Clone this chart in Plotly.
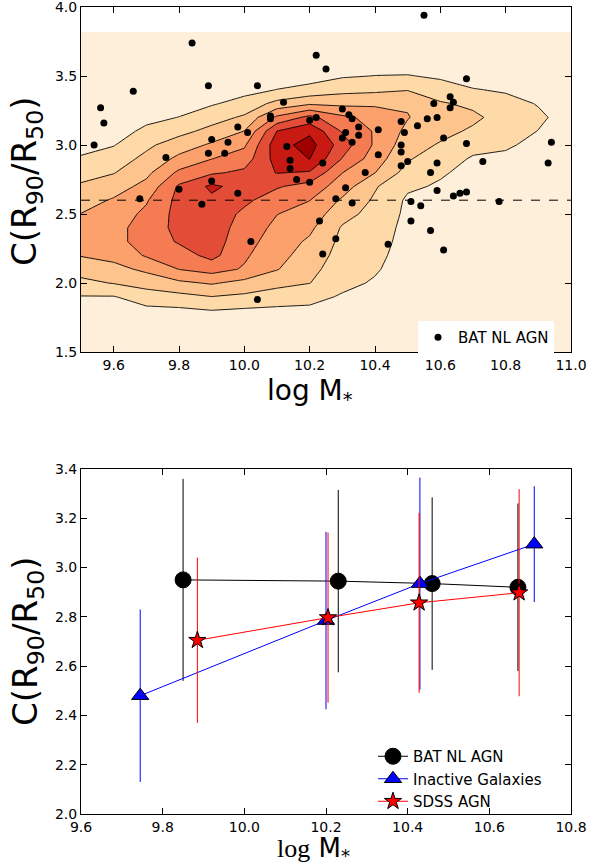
import numpy as np
import plotly.graph_objects as go

# ---------------- top panel: density grid ----------------
x_grid = [9.5, 9.6, 9.7, 9.8, 9.9, 10.0, 10.1, 10.2, 10.3, 10.4, 10.5, 10.6, 10.7, 10.8, 10.9, 11.0]
y_grid = [1.5, 1.6, 1.7, 1.8, 1.9, 2.0, 2.1, 2.2, 2.3, 2.4, 2.5, 2.6, 2.7, 2.8, 2.9,
          3.0, 3.1, 3.2, 3.3, 3.4, 3.5, 3.6, 3.7, 3.82]
# one list per x column, values along y_grid
z_cols = [
    [0.0, 0.1, 0.3, 0.6, 0.95, 1.75, 2.4, 3.05, 3.3, 3.3, 3.02, 2.6, 2.15, 1.6, 1.1, 0.7, 0.4, 0.25, 0.15, 0.1, 0.05, 0.05, 0.05, 0.05],
    [0.0, 0.1, 0.3, 0.6, 0.95, 2.05, 2.7, 3.3, 3.7, 3.7, 3.5, 3.1, 2.55, 1.95, 1.5, 0.95, 0.6, 0.35, 0.2, 0.12, 0.08, 0.05, 0.05, 0.05],
    [0.05, 0.15, 0.4, 0.75, 1.5, 2.4, 3.2, 4.1, 4.4, 4.4, 4.2, 3.9, 3.3, 2.75, 2.25, 1.8, 1.2, 0.75, 0.45, 0.25, 0.15, 0.1, 0.05, 0.05],
    [0.05, 0.15, 0.4, 0.8, 1.7, 2.8, 4.02, 4.55, 5.1, 5.3, 5.35, 5.3, 5.15, 4.2, 3.25, 2.5, 1.7, 1.02, 0.6, 0.35, 0.2, 0.1, 0.05, 0.05],
    [0.05, 0.15, 0.4, 0.98, 1.98, 3.1, 4.4, 5.3, 5.45, 5.5, 5.6, 5.8, 6.2, 4.85, 3.98, 3.15, 2.3, 1.6, 0.9, 0.5, 0.3, 0.15, 0.1, 0.05],
    [0.05, 0.15, 0.45, 0.85, 1.8, 2.7, 3.9, 4.15, 4.4, 4.6, 4.8, 5.2, 5.6, 5.2, 4.5, 3.85, 3.02, 2.15, 1.35, 0.7, 0.4, 0.2, 0.1, 0.05],
    [0.05, 0.2, 0.5, 0.8, 1.5, 2.3, 3.05, 3.3, 3.5, 3.75, 4.02, 4.5, 5.1, 6.05, 6.4, 6.6, 6.02, 4.2, 2.3, 1.02, 0.5, 0.25, 0.1, 0.05],
    [0.05, 0.2, 0.5, 0.8, 1.3, 2.02, 2.3, 2.6, 2.85, 3.2, 3.6, 4.02, 4.6, 5.9, 7.02, 7.4, 6.8, 5.3, 2.85, 1.3, 0.6, 0.3, 0.1, 0.05],
    [0.05, 0.2, 0.45, 0.7, 0.9, 1.25, 1.45, 1.6, 1.75, 1.9, 2.35, 2.85, 3.5, 4.02, 4.95, 5.5, 4.9, 4.2, 2.75, 1.7, 0.9, 0.45, 0.2, 0.1],
    [0.05, 0.15, 0.35, 0.55, 0.75, 0.9, 1.1, 1.25, 1.4, 1.5, 1.65, 1.85, 2.1, 3.02, 3.5, 3.85, 3.9, 3.7, 2.8, 1.8, 1.02, 0.5, 0.25, 0.1],
    [0.05, 0.1, 0.2, 0.3, 0.4, 0.5, 0.55, 0.6, 0.65, 0.72, 0.8, 0.85, 1.15, 1.6, 2.1, 2.45, 2.75, 3.05, 2.9, 1.95, 1.05, 0.5, 0.25, 0.1],
    [0.05, 0.05, 0.1, 0.15, 0.2, 0.25, 0.3, 0.35, 0.4, 0.5, 0.6, 0.75, 0.9, 1.1, 1.45, 1.9, 2.3, 2.4, 2.1, 1.45, 0.85, 0.45, 0.2, 0.1],
    [0.05, 0.05, 0.05, 0.1, 0.1, 0.15, 0.2, 0.25, 0.3, 0.35, 0.4, 0.5, 0.6, 0.75, 0.9, 1.3, 1.85, 2.2, 1.8, 1.05, 0.6, 0.35, 0.15, 0.1],
    [0.05, 0.05, 0.05, 0.05, 0.1, 0.1, 0.15, 0.2, 0.25, 0.3, 0.35, 0.45, 0.55, 0.65, 0.85, 1.1, 1.4, 1.6, 1.3, 0.9, 0.5, 0.3, 0.15, 0.1],
    [0.05, 0.05, 0.05, 0.05, 0.05, 0.1, 0.1, 0.15, 0.2, 0.25, 0.3, 0.35, 0.4, 0.5, 0.6, 0.8, 0.98, 1.15, 0.95, 0.6, 0.4, 0.2, 0.1, 0.05],
    [0.05, 0.05, 0.05, 0.05, 0.05, 0.05, 0.1, 0.1, 0.15, 0.2, 0.2, 0.25, 0.3, 0.35, 0.4, 0.5, 0.6, 0.65, 0.55, 0.4, 0.25, 0.15, 0.1, 0.05],
]
band_colors = ["#fdefd9", "#fddaa8", "#fdc48d", "#fca06c", "#f57b52", "#e34c36", "#c81a12", "#9e0000"]

# BAT NL AGN individual galaxies
bat_logm = [9.54, 9.56, 9.57, 9.66, 9.84, 9.89, 9.76, 9.90, 9.89, 9.90, 9.80, 9.68, 9.98, 10.01,
            9.95, 9.94, 9.98, 10.04, 10.08, 10.08, 10.12, 10.13, 10.14, 10.14, 10.16, 10.20, 10.24,
            10.20, 10.22, 10.22, 10.25, 10.28, 10.55, 10.68, 10.63, 10.64, 10.58, 10.63, 10.30, 10.32,
            10.33, 10.59, 10.56, 10.48, 10.53, 10.35, 10.41, 10.31, 10.49, 10.35, 10.30, 10.33, 10.61,
            10.48, 10.68, 10.94, 10.48, 10.41, 10.48, 10.50, 10.59, 10.73, 10.93, 10.37, 10.57, 10.31,
            10.59, 10.66, 10.68, 10.64, 10.33, 10.23, 10.28, 10.24, 10.44, 10.51, 10.54, 10.78, 10.51,
            10.57, 10.61, 9.87, 10.02, 10.04]
bat_conc = [3.00, 3.27, 3.16, 3.39, 3.74, 3.43, 2.91, 3.04, 2.94, 2.74, 2.68, 2.61, 3.13, 3.09,
            3.02, 2.94, 2.65, 3.43, 3.21, 3.19, 3.31, 2.99, 2.89, 2.83, 2.75, 2.73, 2.87,
            3.18, 3.20, 3.65, 3.55, 2.61, 3.94, 3.48, 3.35, 3.31, 3.30, 3.27, 3.26, 3.22,
            3.19, 3.20, 3.19, 3.17, 3.14, 3.13, 3.11, 3.09, 3.09, 3.07, 3.05, 3.02, 3.05,
            3.00, 3.01, 3.02, 2.95, 2.93, 2.85, 2.88, 2.87, 2.88, 2.87, 2.80, 2.80, 2.69,
            2.67, 2.65, 2.66, 2.63, 2.58, 2.45, 2.32, 2.21, 2.28, 2.59, 2.56, 2.59, 2.45,
            2.38, 2.24, 2.57, 2.30, 1.88]
conc_threshold = 2.6

# ---------------- bottom panel: binned medians ----------------
bat_bin_m = [9.85, 10.23, 10.46, 10.67]
bat_bin_c = [2.95, 2.945, 2.935, 2.92]
bat_bin_e = [0.41, 0.37, 0.35, 0.34]

ina_bin_m = [9.745, 10.20, 10.43, 10.71]
ina_bin_c = [2.48, 2.785, 2.935, 3.095]
ina_bin_e = [0.35, 0.36, 0.43, 0.235]

sdss_bin_m = [9.885, 10.205, 10.428, 10.673]
sdss_bin_c = [2.705, 2.797, 2.857, 2.898]
sdss_bin_e = [0.335, 0.345, 0.365, 0.42]

top_xticks = [9.6, 9.8, 10.0, 10.2, 10.4, 10.6, 10.8, 11.0]
top_yticks = [1.5, 2.0, 2.5, 3.0, 3.5, 4.0]
bot_xticks = [9.6, 9.8, 10.0, 10.2, 10.4, 10.6, 10.8]
bot_yticks = [2.0, 2.2, 2.4, 2.6, 2.8, 3.0, 3.2, 3.4]

W, H = 603, 865
FONT = "DejaVu Sans"

fig = go.Figure()

z = np.array(z_cols).T
nb = len(band_colors)
fig.add_trace(go.Contour(
    x=x_grid, y=y_grid, z=z, xaxis="x", yaxis="y",
    autocontour=False,
    contours=dict(start=1, end=nb - 1, size=1, coloring="fill"),
    colorscale=[[i / (nb - 1), c] for i, c in enumerate(band_colors)],
    line=dict(color="black", width=0.9, smoothing=0),
    showscale=False, showlegend=False, hoverinfo="skip",
))

fig.add_trace(go.Scatter(
    x=bat_logm, y=bat_conc, mode="markers", xaxis="x", yaxis="y",
    marker=dict(color="black", size=7, line=dict(width=0)),
    name="BAT NL AGN", legend="legend",
))

fig.add_shape(type="line", xref="x domain", yref="y", x0=0, x1=1,
              y0=conc_threshold, y1=conc_threshold,
              line=dict(color="black", width=1, dash="dash"))

fig.add_trace(go.Scatter(
    x=bat_bin_m, y=bat_bin_c, mode="lines+markers", xaxis="x2", yaxis="y2",
    error_y=dict(type="data", array=bat_bin_e, color="black", thickness=1, width=0),
    line=dict(color="black", width=1),
    marker=dict(symbol="circle", size=16, color="black", line=dict(color="black", width=1)),
    name="BAT NL AGN", legend="legend2",
))
fig.add_trace(go.Scatter(
    x=ina_bin_m, y=ina_bin_c, mode="lines+markers", xaxis="x2", yaxis="y2",
    error_y=dict(type="data", array=ina_bin_e, color="blue", thickness=1, width=0),
    line=dict(color="blue", width=1),
    marker=dict(symbol="triangle-up", size=15, color="blue", line=dict(color="black", width=1)),
    name="Inactive Galaxies", legend="legend2",
))
fig.add_trace(go.Scatter(
    x=sdss_bin_m, y=sdss_bin_c, mode="lines+markers", xaxis="x2", yaxis="y2",
    error_y=dict(type="data", array=sdss_bin_e, color="red", thickness=1, width=0),
    line=dict(color="red", width=1),
    marker=dict(symbol="star", size=13, color="red", line=dict(color="black", width=1)),
    name="SDSS AGN", legend="legend2",
))

axis_common = dict(
    showgrid=False, zeroline=False, showline=True, linecolor="black", linewidth=1,
    mirror="ticks", ticks="inside", ticklen=6, tickcolor="black", tickwidth=1,
    tickfont=dict(family=FONT, size=14, color="black"), automargin=False,
    ticklabeloverflow="allow",
)

xl, xr = 81 / W, 571 / W
fig.update_layout(
    width=W, height=H,
    margin=dict(l=0, r=0, t=0, b=0, autoexpand=False),
    paper_bgcolor="white", plot_bgcolor="white",
    font=dict(family=FONT, color="black"),
    xaxis=dict(domain=[xl, xr], anchor="y", range=[9.5, 11.0], tickvals=top_xticks,
               ticktext=[f"{v:.1f}" for v in top_xticks], **axis_common),
    yaxis=dict(domain=[1 - 352 / H, 1 - 7 / H], anchor="x", range=[1.5, 4.0], tickvals=top_yticks,
               ticktext=[f"{v:.1f}" for v in top_yticks], **axis_common),
    xaxis2=dict(domain=[xl, xr], anchor="y2", range=[9.6, 10.8], tickvals=bot_xticks,
                ticktext=[f"{v:.1f}" for v in bot_xticks], **axis_common),
    yaxis2=dict(domain=[1 - 814 / H, 1 - 469 / H], anchor="x2", range=[2.0, 3.4], tickvals=bot_yticks,
                ticktext=[f"{v:.1f}" for v in bot_yticks], **axis_common),
    legend=dict(x=418 / W, y=1 - 321 / H, xanchor="left", yanchor="top",
                bgcolor="white", borderwidth=0, font=dict(family=FONT, size=15, color="black"),
                itemsizing="trace"),
    legend2=dict(x=373 / W, y=1 - 740 / H, xanchor="left", yanchor="top",
                 bgcolor="rgba(255,255,255,0)", borderwidth=0,
                 font=dict(family=FONT, size=15, color="black"), tracegroupgap=0),
    showlegend=True,
)

ytitle = "C(R<sub>90</sub>/R<sub>50</sub>)"
fig.add_annotation(text="log M<sub>*</sub>", xref="paper", yref="paper",
                   x=310 / W, y=1 - 392 / H, showarrow=False, xanchor="center", yanchor="middle",
                   font=dict(family=FONT, size=28, color="black"))
fig.add_annotation(text=ytitle, xref="paper", yref="paper",
                   x=27 / W, y=1 - 181 / H, showarrow=False, textangle=-90,
                   xanchor="center", yanchor="middle",
                   font=dict(family=FONT, size=34, color="black"))
fig.add_annotation(text=ytitle, xref="paper", yref="paper",
                   x=27 / W, y=1 - 641 / H, showarrow=False, textangle=-90,
                   xanchor="center", yanchor="middle",
                   font=dict(family=FONT, size=34, color="black"))
fig.add_annotation(text="<span style='font-family:Liberation Serif'>log</span> M<sub>*</sub>",
                   xref="paper", yref="paper",
                   x=313 / W, y=1 - 849 / H, showarrow=False, xanchor="center", yanchor="middle",
                   font=dict(family=FONT, size=26, color="black"))

fig.write_html("out.html")
